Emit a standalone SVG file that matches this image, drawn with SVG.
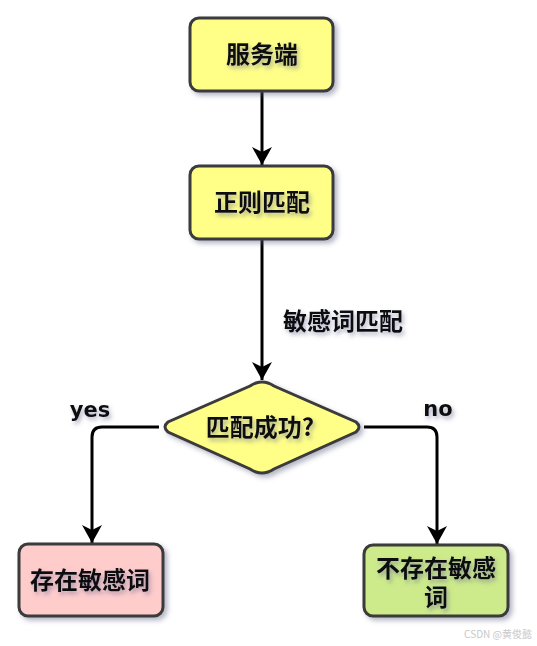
<svg xmlns="http://www.w3.org/2000/svg" width="537" height="646" viewBox="0 0 537 646">
<defs>
<filter id="sh" x="-20%" y="-20%" width="150%" height="150%">
<feDropShadow dx="3" dy="3" stdDeviation="2.5" flood-color="#5a5f80" flood-opacity="0.45"/>
</filter>
<filter id="tsh" x="-20%" y="-30%" width="150%" height="170%">
<feDropShadow dx="2" dy="3" stdDeviation="2" flood-color="#60648a" flood-opacity="0.5"/>
</filter>
<marker id="arr" markerWidth="20" markerHeight="20" refX="18" refY="10" orient="auto" markerUnits="userSpaceOnUse" viewBox="0 0 20 20">
<path d="M0,0 L18,10 L0,20 L5,10 Z" fill="#000"/>
</marker>
</defs>
<style>
.box{stroke:#3a3a3a;stroke-width:3;filter:url(#sh)}
.lbl{font-family:"Noto Sans CJK SC","Liberation Sans",sans-serif;font-weight:bold;font-size:24px;fill:#111;text-anchor:middle;filter:url(#tsh)}
.en{font-family:"DejaVu Sans","Liberation Sans",sans-serif;font-weight:bold;font-size:21px;fill:#111;text-anchor:middle;filter:url(#tsh)}
.edge{fill:none;stroke:#000;stroke-width:3;marker-end:url(#arr)}
</style>
<g id="connectors">
<path class="edge" d="M262,91 L262,165"/>
<path class="edge" d="M262,239 L262,380"/>
<path class="edge" d="M159,427 L102,427 Q92,427 92,437 L92,543"/>
<path class="edge" d="M364,427 L427,427 Q437,427 437,437 L437,544"/>
</g>
<g id="edge-labels">
<text class="lbl" x="343" y="330">敏感词匹配</text>
<text class="en" x="90" y="417">yes</text>
<text class="en" x="438" y="416">no</text>
</g>
<g id="n1">
<rect class="box" x="190" y="18" width="143" height="73" rx="9" fill="#ffff88"/>
<text class="lbl" x="262" y="63">服务端</text>
</g>
<g id="n2">
<rect class="box" x="190" y="166" width="143" height="73" rx="9" fill="#ffff88"/>
<text class="lbl" x="262" y="211">正则匹配</text>
</g>
<g id="n3">
<path class="box" d="M262,382 Q268,382 274,386 L356,422 Q362,427 356,432 L274,469 Q268,473 262,473 Q256,473 250,469 L168,432 Q162,427 168,422 L250,386 Q256,382 262,382 Z" fill="#ffff88"/>
<text class="lbl" x="260" y="436">匹配成功?</text>
</g>
<g id="n4">
<rect class="box" x="19" y="544" width="144" height="72" rx="9" fill="#ffcccc"/>
<text class="lbl" x="90" y="589">存在敏感词</text>
</g>
<g id="n5">
<rect class="box" x="364" y="545" width="144" height="71" rx="9" fill="#cdeb8b"/>
<text class="lbl" x="436" y="577">不存在敏感</text>
<text class="lbl" x="436" y="606">词</text>
</g>
<text x="532" y="638" font-family="Noto Sans CJK SC,Liberation Sans,sans-serif" font-size="10" fill="#c8c8c8" text-anchor="end">CSDN @黄俊懿</text>
</svg>
